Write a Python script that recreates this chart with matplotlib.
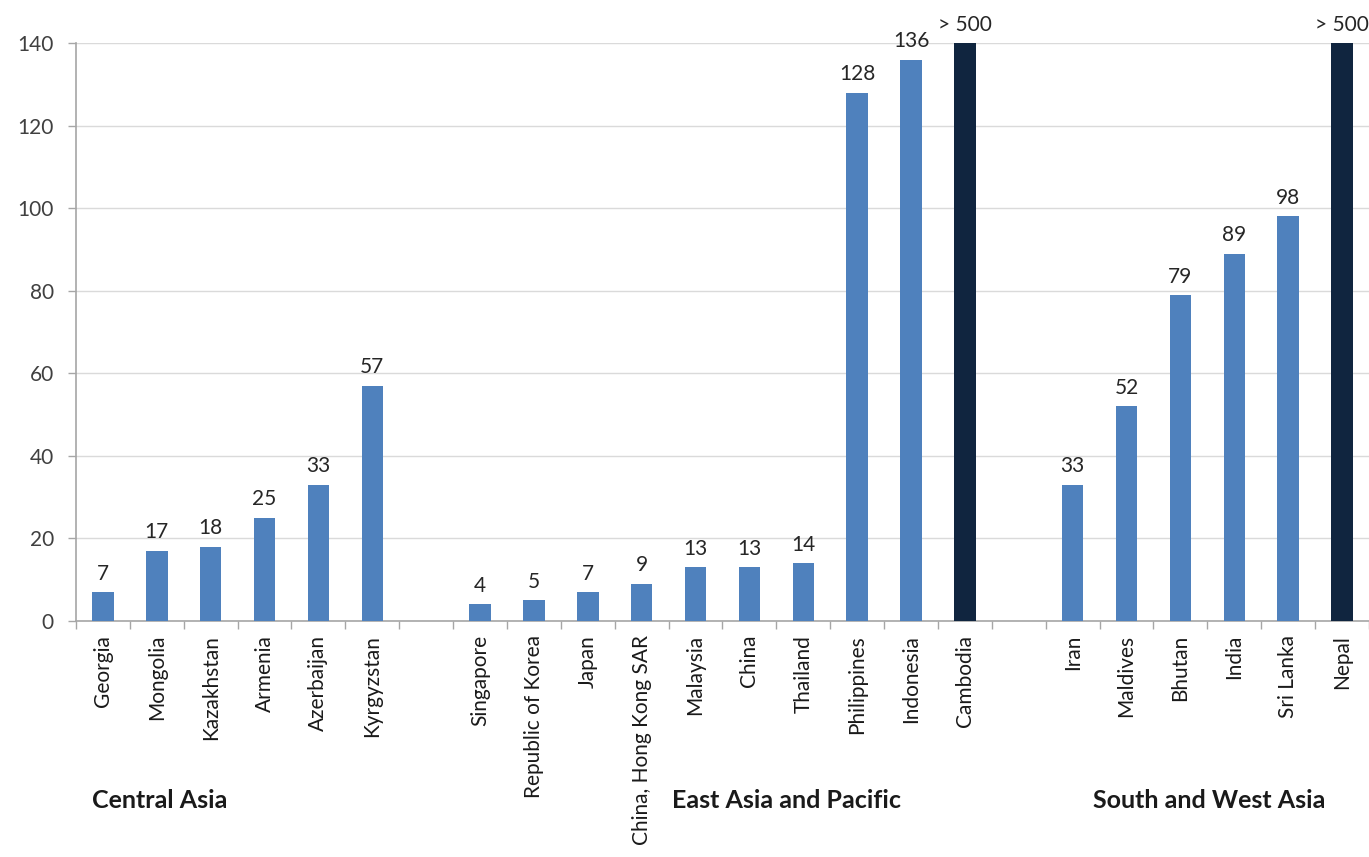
import matplotlib
matplotlib.use("Agg")
import matplotlib.pyplot as plt
from matplotlib.transforms import blended_transform_factory

plt.rcParams['font.family'] = ['Lato', 'DejaVu Sans']

# Countries per region, in drawing order
central_asia = ["Georgia", "Mongolia", "Kazakhstan", "Armenia", "Azerbaijan", "Kyrgyzstan"]
central_vals = [7, 17, 18, 25, 33, 57]

east_asia = ["Singapore", "Republic of Korea", "Japan", "China, Hong Kong SAR", "Malaysia",
             "China", "Thailand", "Philippines", "Indonesia", "Cambodia"]
east_vals = [4, 5, 7, 9, 13, 13, 14, 128, 136, 500]

south_asia = ["Iran", "Maldives", "Bhutan", "India", "Sri Lanka", "Nepal"]
south_vals = [33, 52, 79, 89, 98, 500]

region_names = ["Central Asia", "East Asia and Pacific", "South and West Asia"]

y_max = 140
y_ticks = [0, 20, 40, 60, 80, 100, 120, 140]

BLUE = "#4F81BD"
NAVY = "#10253F"

fig = plt.figure(figsize=(13.69, 8.57), dpi=100)
ax = fig.add_axes([0.0555, 0.2754, 0.9445, 0.6744])

groups = [central_asia, east_asia, south_asia]
group_vals = [central_vals, east_vals, south_vals]

positions, names, values = [], [], []
pos = 0
for g, v in zip(groups, group_vals):
    for n, val in zip(g, v):
        positions.append(pos)
        names.append(n)
        values.append(val)
        pos += 1
    pos += 1  # empty slot between regions
n_slots = pos - 1

# bars above the axis limit are capped and drawn in navy with a "> 500" label
for x, n, v in zip(positions, names, values):
    over = v > y_max
    h = y_max if over else v
    ax.bar(x, h, width=0.4, color=NAVY if over else BLUE, zorder=3)
    label = "> 500" if over else f"{v}"
    ax.annotate(label, (x, h), xytext=(0, 6), textcoords="offset points",
                ha="center", va="bottom", fontsize=15, color="#262626",
                annotation_clip=False)

ax.set_xlim(-0.5, n_slots - 0.5)
ax.set_ylim(0, y_max)
ax.set_yticks(y_ticks)
ax.tick_params(axis="y", labelsize=15, labelcolor="#404040", color="#A6A6A6",
               length=6, width=1, pad=10)

# category labels at bar positions, boundary tick marks between slots
ax.set_xticks(positions)
ax.set_xticklabels(names, rotation=90, fontsize=15, color="#1a1a1a")
ax.tick_params(axis="x", length=0, pad=10)
ax.set_xticks([i - 0.5 for i in range(n_slots + 1)], minor=True)
ax.tick_params(axis="x", which="minor", length=6, color="#A6A6A6", width=1)

ax.grid(axis="y", color="#DADADA", linewidth=1, zorder=0)
ax.set_axisbelow(True)
for side in ("top", "right"):
    ax.spines[side].set_visible(False)
for side in ("left", "bottom"):
    ax.spines[side].set_color("#A6A6A6")
    ax.spines[side].set_linewidth(1.2)

# region names below the tick labels
trans = blended_transform_factory(ax.transData, fig.transFigure)
region_x = [1.06, 12.69, 20.54]
for name, x in zip(region_names, region_x):
    fig.text(x, 1 - 800 / 857, name, transform=trans, ha="center", va="center",
             fontsize=18, fontweight="bold", color="#1a1a1a")

fig.savefig("out.png", dpi=100)
